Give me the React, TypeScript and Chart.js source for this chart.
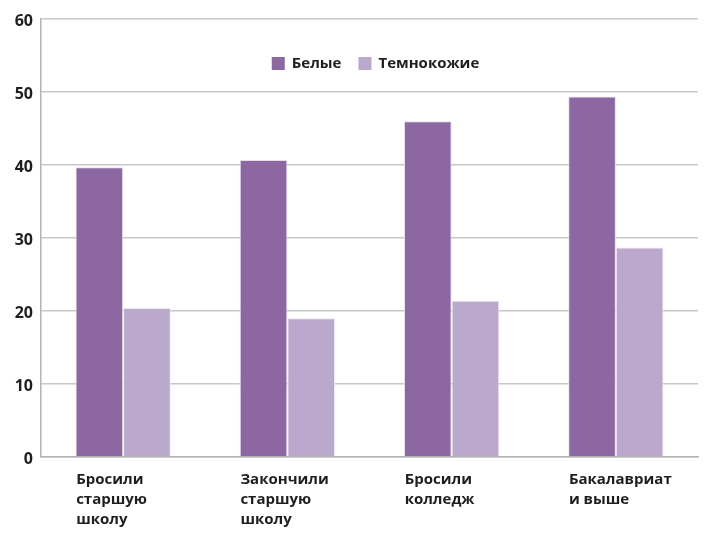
import React, { useEffect, useRef } from "react";
import { Chart, registerables } from "chart.js";

Chart.register(...registerables);

const categories: string[][] = [
  ["Бросили", "старшую", "школу"],
  ["Закончили", "старшую", "школу"],
  ["Бросили", "колледж"],
  ["Бакалавриат", "и выше"],
];
const seriesNames = ["Белые", "Темнокожие"];
const whiteValues = [39.7, 40.7, 46.0, 49.4];
const blackValues = [20.4, 19.0, 21.4, 28.7];
const yTicks = [0, 10, 20, 30, 40, 50, 60];
const seriesColors = ["#8c67a2", "#bba8cd"];

const FONT = "'Open Sans', 'Noto Sans', sans-serif";

const topLegend = {
  id: "topLegend",
  afterDraw(chart: any) {
    const ctx = chart.ctx;
    const area = chart.chartArea;
    const box = 13;
    const gapText = 7;
    const gapItem = 17;
    ctx.save();
    ctx.font = `700 15px ${FONT}`;
    const items = chart.data.datasets.map((d: any) => ({
      label: d.label as string,
      color: d.backgroundColor as string,
      w: ctx.measureText(d.label).width,
    }));
    const total =
      items.reduce((s: number, it: any) => s + box + gapText + it.w, 0) +
      gapItem * (items.length - 1);
    let x = (area.left + area.right) / 2 + 6 - total / 2;
    const cy = 63.5;
    ctx.textBaseline = "middle";
    ctx.textAlign = "left";
    for (const it of items) {
      ctx.fillStyle = it.color;
      ctx.fillRect(x, cy - box / 2, box, box);
      x += box + gapText;
      ctx.fillStyle = "#1e1e1e";
      ctx.fillText(it.label, x, cy);
      x += it.w + gapItem;
    }
    ctx.restore();
  },
};

export default function App() {
  const ref = useRef<HTMLCanvasElement | null>(null);
  useEffect(() => {
    document.body.style.margin = "0";
    const ctx = ref.current!;
    const chart = new Chart(ctx, {
      type: "bar",
      data: {
        labels: categories,
        datasets: [
          {
            label: seriesNames[0],
            data: whiteValues,
            backgroundColor: seriesColors[0],
            borderColor: "#e4e0e8",
            borderWidth: 1,
            categoryPercentage: 0.58,
            barPercentage: 1,
          },
          {
            label: seriesNames[1],
            data: blackValues,
            backgroundColor: seriesColors[1],
            borderColor: "#ebe7ef",
            borderWidth: 1,
            categoryPercentage: 0.58,
            barPercentage: 1,
          },
        ],
      },
      options: {
        animation: false,
        responsive: false,
        maintainAspectRatio: false,
        layout: { padding: { top: 19, right: 22, left: 0, bottom: 0 } },
        plugins: {
          tooltip: { enabled: false },
          legend: { display: false },
        },
        scales: {
          x: {
            grid: { display: false, drawTicks: false },
            border: { display: true, color: "#b4b4b4", width: 1.5 },
            afterFit: (s: any) => {
              s.height = 96;
              s.paddingLeft = 0;
              s.paddingRight = 0;
            },
            ticks: {
              align: "start",
              labelOffset: -47,
              padding: 13,
              maxRotation: 0,
              autoSkip: false,
              color: "#1e1e1e",
              font: { family: FONT, size: 15, weight: "700", lineHeight: 1.3333 },
            },
          },
          y: {
            min: 0,
            max: 60,
            afterBuildTicks: (s: any) => {
              s.ticks = yTicks.map((v) => ({ value: v }));
            },
            afterFit: (s: any) => {
              s.width = 41;
            },
            grid: { color: "#c8c8c8", lineWidth: 1.5, drawTicks: false },
            border: { display: true, color: "#b4b4b4", width: 1.5 },
            ticks: {
              padding: 8,
              labelOffset: 2,
              color: "#1e1e1e",
              font: { family: FONT, size: 16, weight: "700" },
            },
          },
        },
      },
      plugins: [topLegend],
    } as any);
    return () => chart.destroy();
  }, []);
  return (
    <div style={{ width: 720, height: 553 }}>
      <canvas ref={ref} width={720} height={553} style={{ display: "block" }} />
    </div>
  );
}
